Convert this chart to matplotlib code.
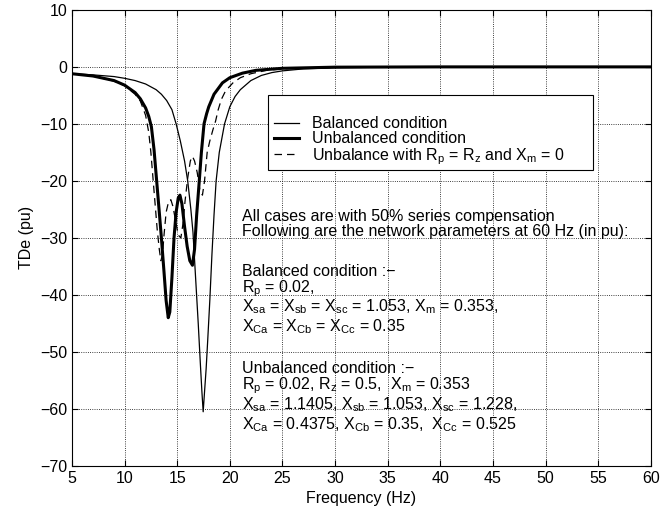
import matplotlib
matplotlib.use('agg')
import matplotlib.pyplot as plt
from matplotlib.patches import Rectangle

plt.rcParams['font.family'] = ['Liberation Sans', 'DejaVu Sans']
plt.rcParams['mathtext.fontset'] = 'custom'
plt.rcParams['mathtext.rm'] = 'Liberation Sans'
plt.rcParams['mathtext.it'] = 'Liberation Sans'
plt.rcParams['mathtext.default'] = 'regular'

# balanced condition
f_bal = [5, 7, 9, 10, 11, 12, 13, 13.5, 14, 14.5, 14.9, 15.3, 15.7, 16.0, 16.3, 16.5,
         16.75, 17.0, 17.2, 17.35, 17.47, 17.6, 17.75, 17.9, 18.1, 18.3, 18.5, 18.7,
         19.0, 19.5, 20, 20.5, 21, 22, 23, 24, 25, 27, 30, 35, 40, 60]
tde_bal = [-1.2, -1.4, -1.7, -2.0, -2.4, -3.0, -4.0, -4.8, -5.9, -7.5, -10, -13, -16.5, -20,
           -25, -29, -37, -45, -52, -57, -60.5, -57, -53, -48, -41, -33, -26, -20,
           -15, -10, -7, -5.2, -4, -2.4, -1.5, -1.0, -0.7, -0.35, -0.15, -0.05, 0, 0]

# unbalanced condition
f_unb = [5, 7, 9, 10, 11, 11.5, 12, 12.3, 12.55, 12.8, 13.05, 13.3, 13.5, 13.75, 13.95,
         14.15, 14.3, 14.5, 14.7, 14.9, 15.1, 15.26, 15.45, 15.7, 15.95, 16.2, 16.45,
         16.65, 16.85, 17.1, 17.3, 17.55, 17.8, 18.0, 18.5, 19.3, 20, 21.2, 22.5, 25,
         30, 40, 60]
tde_unb = [-1.2, -1.6, -2.4, -3.2, -4.5, -5.6, -7.2, -8.7, -10.5, -14.5, -20, -25.5, -30,
           -36, -41, -44, -43, -37, -30, -25.5, -23, -22.5, -24, -28, -31.5, -34, -34.8,
           -32, -26, -20, -15, -10, -8.2, -7.0, -4.8, -2.8, -1.9, -1.1, -0.6, -0.25,
           -0.05, 0, 0]

# unbalanced with Rp = Rz and Xm = 0
f_rz = [5, 7, 9, 10, 11, 11.5, 12, 12.3, 12.5, 12.7, 12.9, 13.1, 13.3, 13.45, 13.6,
        13.75, 13.95, 14.2, 14.4, 14.6, 14.85, 15.1, 15.35, 15.55, 15.75, 16.0, 16.25,
        16.45, 16.65, 16.9, 17.15, 17.4, 17.6, 17.85, 18.1, 18.4, 18.65, 18.9, 19.2,
        19.6, 20.3, 21, 22, 23.5, 25, 30, 40, 60]
tde_rz = [-1.2, -1.6, -2.5, -3.3, -4.8, -6, -8.5, -11.5, -15, -19.5, -24, -28.5, -32, -34,
          -33, -29.5, -25.5, -23.5, -23.3, -24.5, -27, -29.5, -30, -27.5, -23.5, -19.5,
          -16.5, -15.7, -16.5, -18.5, -21.5, -22.5, -20, -15, -13, -11, -9.5, -7.5, -5.7,
          -4.2, -2.8, -1.9, -1.2, -0.6, -0.35, -0.08, 0, 0]

fig = plt.figure(figsize=(6.6, 5.2), dpi=100)
ax = fig.add_axes([0.109, 0.104, 0.877, 0.877])

ax.plot(f_bal, tde_bal, 'k-', lw=0.9, label='Balanced condition')
ax.plot(f_unb, tde_unb, 'k-', lw=2.2, label='Unbalanced condition')
ax.plot(f_rz, tde_rz, 'k--', lw=0.9, dashes=(6, 4),
        label='Unbalance with R$_p$ = R$_z$ and X$_m$ = 0')

ax.set_xlim(5, 60)
ax.set_ylim(-70, 10)
ax.set_xticks(range(5, 61, 5))
ax.set_yticks(range(-70, 11, 10))
ax.grid(True, color='k', linestyle=':', linewidth=0.6)
ax.tick_params(direction='in', top=True, right=True, labelsize=11.5, length=4)
for s in ax.spines.values():
    s.set_linewidth(0.8)
ax.set_xlabel('Frequency (Hz)', fontsize=11.5)
ax.set_ylabel('TDe (pu)', fontsize=11.5)

# legend box drawn separately so the entries can sit close to its left edge
ax.add_patch(Rectangle((0.339, 0.649), 0.561, 0.165, transform=ax.transAxes,
                       facecolor='white', edgecolor='k', lw=0.8, zorder=4))
leg = ax.legend(loc='upper left', bbox_to_anchor=(0.349, 0.767), frameon=False,
                fontsize=11.5, handlelength=1.55, handletextpad=0.85,
                borderpad=0, labelspacing=0.0, borderaxespad=0)
leg.set_zorder(5)

notes = [
    (215, 'All cases are with 50% series compensation'),
    (230, 'Following are the network parameters at 60 Hz (in pu):'),
    (270, 'Balanced condition :\u2212'),
    (286, 'R$_p$ = 0.02,'),
    (305, 'X$_{sa}$ = X$_{sb}$ = X$_{sc}$ = 1.053, X$_m$ = 0.353,'),
    (325, 'X$_{Ca}$ = X$_{Cb}$ = X$_{Cc}$ = 0.35'),
    (367, 'Unbalanced condition :\u2212'),
    (383, 'R$_p$ = 0.02, R$_z$ = 0.5,  X$_m$ = 0.353'),
    (403, 'X$_{sa}$ = 1.1405, X$_{sb}$ = 1.053, X$_{sc}$ = 1.228,'),
    (423, 'X$_{Ca}$ = 0.4375, X$_{Cb}$ = 0.35,  X$_{Cc}$ = 0.525'),
]
for ypx, txt in notes:
    fig.text(242 / 660, 1 - (ypx + 6) / 520, txt, fontsize=11.5, va='baseline', ha='left')

plt.savefig('out.png', dpi=100)
